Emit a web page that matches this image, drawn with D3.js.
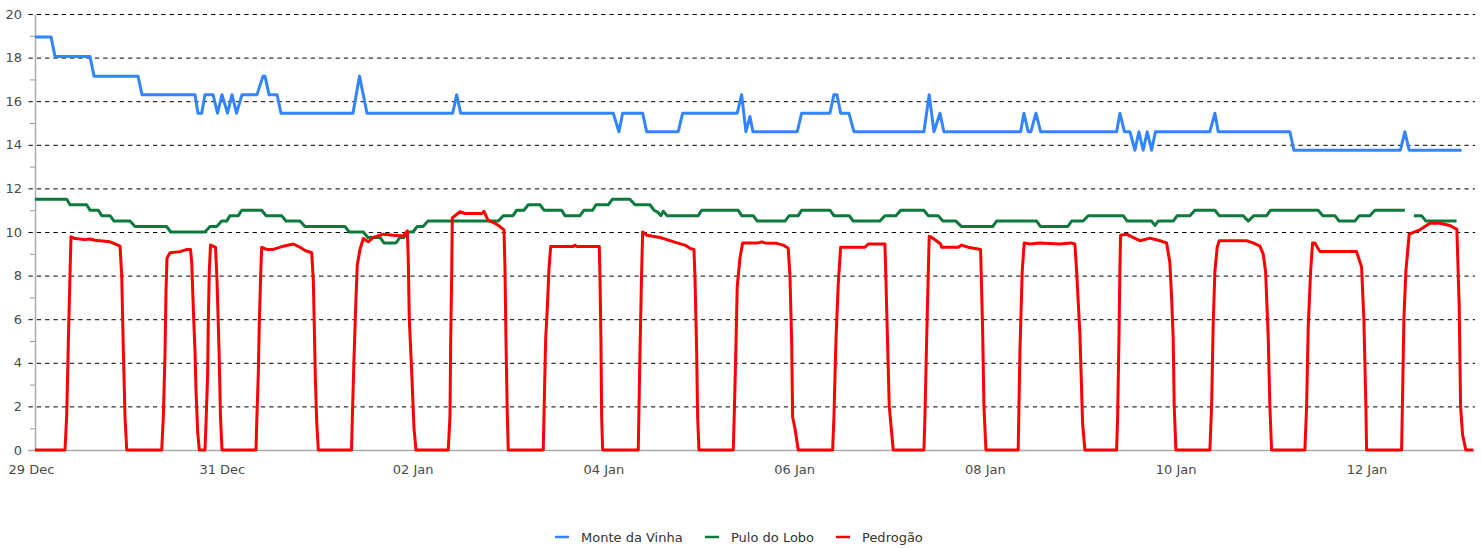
<!DOCTYPE html>
<html>
<head>
<meta charset="utf-8">
<script src="https://cdn.jsdelivr.net/npm/d3@7"></script>
<style>
  body { margin: 0; background: #fff; }
  svg { display: block; font-family: "DejaVu Sans", sans-serif; }
</style>
</head>
<body>
<svg id="chart" width="1481" height="548"></svg>
<script>
// hours after 29 Dec 00:00, value
const monteDaVinha = [
  [1.0, 18.95], [5.03, 18.95], [6.04, 18.05], [14.84, 18.05], [15.85, 17.15],
  [26.92, 17.15], [27.92, 16.3], [41.26, 16.3], [42.01, 15.45], [42.94, 15.45],
  [43.77, 16.3], [45.79, 16.3], [46.92, 15.45], [48.05, 16.3], [49.43, 15.45],
  [50.57, 16.3], [51.70, 15.45], [53.08, 16.3], [56.85, 16.3], [58.36, 17.15],
  [58.87, 17.15], [59.87, 16.3], [61.89, 16.3], [62.89, 15.45], [81.0, 15.45],
  [82.64, 17.15], [84.53, 15.45], [106.09, 15.45], [107.09, 16.3], [108.10, 15.45],
  [146.49, 15.45], [147.92, 14.6], [148.85, 15.45], [153.88, 15.45], [154.89, 14.6],
  [162.84, 14.6], [163.95, 15.45], [177.68, 15.45], [178.79, 16.3], [179.87, 14.6],
  [180.88, 15.3], [181.63, 14.6], [192.78, 14.6], [193.88, 15.45], [201.0, 15.45],
  [202.01, 16.3], [202.77, 16.3], [203.70, 15.45], [205.78, 15.45], [207.04, 14.6],
  [224.65, 14.6], [225.98, 16.3], [227.17, 14.6], [228.68, 15.45], [229.68, 14.6],
  [248.98, 14.6], [249.81, 15.45], [250.89, 14.6], [251.57, 14.6], [252.83, 15.45],
  [254.01, 14.6], [273.13, 14.6], [273.96, 15.45], [275.09, 14.6], [276.48, 14.6],
  [277.73, 13.75], [278.74, 14.6], [279.82, 13.75], [280.83, 14.6], [281.93, 13.75],
  [282.89, 14.6], [296.60, 14.6], [297.86, 15.45], [298.69, 14.6], [316.73, 14.6],
  [317.73, 13.75], [344.53, 13.75], [345.66, 14.6], [346.74, 13.75], [359.92, 13.75]
];

const puloDoLobo = [
  [1.0, 11.5], [8.98, 11.5], [9.81, 11.25], [14.01, 11.25], [14.84, 11.0],
  [16.93, 11.0], [17.79, 10.75], [19.87, 10.75], [20.88, 10.5], [24.91, 10.5],
  [26.16, 10.25], [34.14, 10.25], [35.14, 10.0], [43.77, 10.0], [45.03, 10.25],
  [46.72, 10.25], [47.97, 10.5], [49.23, 10.5], [50.06, 10.75], [52.15, 10.75],
  [53.0, 11.0], [58.04, 11.0], [59.12, 10.75], [63.07, 10.75], [64.15, 10.5],
  [67.67, 10.5], [68.93, 10.25], [78.99, 10.25], [80.07, 10.0], [83.60, 10.0],
  [84.78, 9.75], [87.80, 9.75], [88.80, 9.5], [91.82, 9.5], [92.83, 9.75],
  [93.84, 9.75], [94.84, 10.0], [96.10, 10.0], [97.11, 10.25], [98.62, 10.25],
  [99.87, 10.5], [117.56, 10.5], [118.82, 10.75], [121.26, 10.75], [122.19, 11.0],
  [124.02, 11.0], [125.11, 11.25], [128.05, 11.25], [129.06, 11.0], [133.51, 11.0],
  [134.34, 10.75], [138.11, 10.75], [139.12, 11.0], [141.31, 11.0], [142.14, 11.25],
  [145.23, 11.25], [146.24, 11.5], [150.69, 11.5], [151.95, 11.25], [155.72, 11.25],
  [156.73, 11.0], [157.73, 10.9], [158.49, 10.75], [159.07, 10.95], [160.0, 10.75],
  [167.87, 10.75], [168.73, 11.0], [177.93, 11.0], [178.79, 10.75], [181.71, 10.75],
  [182.71, 10.5], [189.68, 10.5], [190.76, 10.75], [193.03, 10.75], [193.88, 11.0],
  [201.0, 11.0], [202.01, 10.75], [205.86, 10.75], [206.86, 10.5], [213.58, 10.5],
  [214.84, 10.75], [217.61, 10.75], [218.79, 11.0], [224.65, 11.0], [225.73, 10.75],
  [228.25, 10.75], [229.43, 10.5], [232.70, 10.5], [234.13, 10.25], [241.93, 10.25],
  [242.94, 10.5], [253.0, 10.5], [254.01, 10.25], [260.80, 10.25], [261.81, 10.5],
  [264.72, 10.5], [265.98, 10.75], [274.79, 10.75], [275.80, 10.5], [281.93, 10.5],
  [282.77, 10.3], [283.60, 10.5], [287.37, 10.5], [288.38, 10.75], [291.57, 10.75],
  [292.83, 11.0], [297.86, 11.0], [298.94, 10.75], [304.98, 10.75], [306.24, 10.5],
  [307.67, 10.75], [310.87, 10.75], [311.87, 11.0], [323.85, 11.0], [324.96, 10.75],
  [328.05, 10.75], [329.13, 10.5], [333.08, 10.5], [334.16, 10.75], [336.85, 10.75],
  [338.11, 11.0], [345.66, 11.0], [346.8, null], [347.92, 10.75], [349.86, 10.75],
  [350.94, 10.5], [358.66, 10.5]
];

const pedrogao = [
  [1.0, 0], [8.55, 0], [8.98, 1.6], [9.38, 4.9], [9.81, 8.1], [10.06, 9.78],
  [11.07, 9.7], [13.58, 9.65], [14.84, 9.68], [16.10, 9.62], [19.87, 9.55],
  [21.13, 9.45], [22.39, 9.35], [22.82, 8.0], [23.22, 4.6], [23.65, 1.5], [24.08, 0],
  [32.88, 0], [33.28, 1.5], [33.71, 4.4], [33.96, 7.3], [34.21, 8.8], [34.97, 9.05],
  [37.48, 9.1], [39.24, 9.2], [40.13, 9.2], [40.43, 8.6], [40.93, 6.0], [41.26, 4.5],
  [41.51, 2.7], [41.94, 0.8], [42.34, 0], [43.77, 0], [44.02, 1.2], [44.44, 3.5],
  [44.60, 5.9], [44.85, 8.2], [45.16, 9.4], [45.79, 9.35], [46.41, 9.3], [46.79, 7.8],
  [47.30, 4.6], [47.67, 1.5], [48.05, 0],
  [56.60, 0], [56.78, 1.2], [57.18, 3.5], [57.43, 5.8], [57.79, 8.1], [58.04, 9.3],
  [59.29, 9.2], [60.96, 9.2], [63.47, 9.35], [65.99, 9.45], [67.67, 9.3], [68.93, 9.15],
  [70.62, 9.05], [71.02, 7.8], [71.27, 5.7], [71.52, 3.4], [71.87, 1.3], [72.28, 0],
  [80.63, 0], [80.83, 1.4], [81.26, 4.2], [81.76, 7.0], [82.09, 8.5], [82.77, 9.2],
  [83.60, 9.7], [84.85, 9.55], [86.11, 9.75], [88.63, 9.9], [91.14, 9.85], [93.66, 9.82],
  [94.67, 10.05], [94.92, 8.7], [95.17, 6.0], [95.77, 3.6], [96.35, 1.0], [96.85, 0],
  [104.98, 0], [105.41, 1.6], [105.58, 4.9], [105.83, 8.0], [105.99, 10.65],
  [107.92, 10.93], [109.18, 10.85], [113.46, 10.85], [113.96, 10.95], [114.97, 10.55],
  [116.73, 10.4], [117.98, 10.25], [118.99, 10.1], [119.24, 8.4], [119.50, 5.0],
  [119.82, 1.7], [120.07, 0],
  [128.88, 0], [129.06, 1.6], [129.48, 5.1], [129.89, 6.5], [130.31, 8.3], [130.74, 9.33],
  [136.43, 9.33], [136.85, 9.4], [137.36, 9.33], [142.97, 9.33], [143.14, 8.0],
  [143.39, 5.0], [143.57, 1.5], [143.82, 0],
  [152.78, 0], [153.21, 4.5], [153.63, 8.2], [153.88, 10.0], [154.97, 9.85],
  [158.24, 9.75], [160.0, 9.65], [162.51, 9.5], [164.53, 9.4], [165.78, 9.25],
  [166.79, 9.2], [167.04, 8.0], [167.47, 4.5], [167.72, 1.5], [168.05, 0],
  [176.68, 0], [176.93, 1.6], [177.36, 4.8], [177.68, 7.5], [178.36, 8.8], [179.04, 9.5],
  [182.97, 9.5], [183.82, 9.55], [184.65, 9.5], [187.60, 9.48], [189.25, 9.4],
  [190.51, 9.25], [190.94, 8.0], [191.37, 5.0], [191.62, 1.5], [192.20, 1.0], [193.03, 0],
  [201.68, 0], [202.01, 1.5], [202.51, 5.0], [203.09, 7.6], [203.70, 9.3], [209.81, 9.3],
  [210.64, 9.45], [214.84, 9.45], [215.09, 7.8], [215.42, 5.5], [215.93, 2.0], [216.93, 0],
  [224.65, 0], [224.90, 1.5], [225.33, 5.0], [225.73, 8.0], [225.98, 9.8], [226.66, 9.75],
  [228.85, 9.45], [229.10, 9.3], [233.28, 9.3], [234.13, 9.4], [235.80, 9.3],
  [238.91, 9.2], [239.42, 5.5], [239.75, 2.0], [240.25, 0],
  [248.37, 0], [248.80, 4.5], [249.38, 8.2], [249.88, 9.5], [251.32, 9.45], [253.83, 9.5],
  [258.87, 9.45], [261.63, 9.5], [262.64, 9.45], [263.07, 8.2], [263.90, 5.3],
  [264.58, 1.2], [265.15, 0],
  [273.13, 0], [273.38, 1.5], [273.71, 5.0], [273.96, 8.3], [274.13, 9.85], [275.64, 9.9],
  [277.23, 9.75], [278.99, 9.6], [281.51, 9.72], [284.02, 9.6], [285.71, 9.5],
  [286.53, 8.6], [286.96, 7.0], [287.37, 5.1], [287.62, 2.0], [288.05, 0],
  [296.60, 0], [297.03, 2.0], [297.43, 5.8], [297.86, 8.2], [298.44, 9.3], [298.94, 9.6],
  [305.83, 9.6], [307.49, 9.5], [309.18, 9.35], [310.0, 9.0], [310.61, 8.2],
  [311.27, 5.2], [311.69, 2.0], [312.12, 0],
  [320.50, 0], [320.93, 2.0], [321.33, 5.6], [321.94, 8.2], [322.44, 9.5], [323.02, 9.5],
  [324.27, 9.1], [333.50, 9.1], [334.76, 8.4], [335.34, 6.0], [335.85, 2.0], [336.02, 0],
  [344.83, 0], [345.08, 2.5], [345.41, 6.0], [345.91, 8.2], [346.74, 9.9], [347.34, 9.95],
  [349.43, 10.1], [351.95, 10.4], [354.46, 10.4], [356.98, 10.3], [358.74, 10.12],
  [359.32, 6.6], [359.67, 2.0], [360.17, 0.7], [361.0, 0], [362.84, 0]
];

const seriesNames = ['Monte da Vinha', 'Pulo do Lobo', 'Pedrogão'];
const seriesColors = ['#3385ff', '#0b7a3b', '#ff0000'];
const yTicks = [0, 2, 4, 6, 8, 10, 12, 14, 16, 18, 20];
const startDate = new Date(2016, 11, 29);

const toDate = h => new Date(startDate.getTime() + h * 3600e3);

const svg = d3.select('#chart');
const plot = { left: 35, right: 1475, top: 14, bottom: 450 };

const x = d3.scaleTime()
  .domain([toDate(1), toDate(363.3)])
  .range([plot.left, plot.right]);
const y = d3.scaleLinear().domain([0, 20]).range([plot.bottom, plot.top]);

/** gridlines */
svg.append('g')
  .selectAll('line')
  .data(yTicks.filter(d => d > 0))
  .join('line')
  .attr('x1', 28.5).attr('x2', plot.right)
  .attr('y1', d => y(d) + 0.5).attr('y2', d => y(d) + 0.5)
  .attr('stroke', '#000')
  .attr('stroke-dasharray', '4.3,4');

/** minor ticks */
svg.append('g')
  .selectAll('line')
  .data(d3.range(1, 20, 2))
  .join('line')
  .attr('x1', 30).attr('x2', plot.left)
  .attr('y1', d => y(d) + 0.5).attr('y2', d => y(d) + 0.5)
  .attr('stroke', '#999');

/** y axis */
const yAxis = svg.append('g')
  .attr('transform', `translate(${plot.left},0)`)
  .call(d3.axisLeft(y).tickValues(yTicks).tickSize(0).tickPadding(13));
yAxis.select('.domain').attr('stroke', '#aaa').attr('stroke-width', 1.5);
yAxis.selectAll('text').attr('fill', '#4a4a4a').attr('font-size', 13)
  .attr('font-family', '"DejaVu Sans", sans-serif');

/** x axis */
const xTicks = d3.range(0, 15).filter(d => d % 2 === 0).map(d => toDate(d * 24));
const xAxis = svg.append('g')
  .attr('transform', `translate(0,${plot.bottom})`)
  .call(d3.axisBottom(x).tickValues(xTicks).tickFormat(d3.timeFormat('%d %b'))
    .tickSize(0).tickPadding(15));
xAxis.select('.domain').remove();
xAxis.selectAll('text').attr('fill', '#4a4a4a').attr('font-size', 13)
  .attr('font-family', '"DejaVu Sans", sans-serif');
svg.append('line')
  .attr('x1', 28).attr('x2', plot.right)
  .attr('y1', plot.bottom + 0.5).attr('y2', plot.bottom + 0.5)
  .attr('stroke', '#aaa').attr('stroke-width', 1.5);

/** series */
const line = d3.line()
  .defined(d => d[1] !== null)
  .x(d => x(toDate(d[0])))
  .y(d => y(d[1]));

[monteDaVinha, puloDoLobo, pedrogao].forEach((data, i) => {
  svg.append('path')
    .datum(data)
    .attr('fill', 'none')
    .attr('stroke', seriesColors[i])
    .attr('stroke-width', 3)
    .attr('stroke-linejoin', 'round')
    .attr('d', line);
});

/** legend */
const legendX = [555, 705, 836];
const legend = svg.append('g')
  .selectAll('g')
  .data(seriesNames)
  .join('g')
  .attr('transform', (d, i) => `translate(${legendX[i]},537)`);
legend.append('line')
  .attr('x1', 0).attr('x2', 14)
  .attr('stroke', (d, i) => seriesColors[i])
  .attr('stroke-width', 2.5);
legend.append('text')
  .attr('x', 26).attr('dy', '0.35em')
  .attr('font-size', 13)
  .attr('fill', '#333')
  .text(d => d);
</script>
</body>
</html>
